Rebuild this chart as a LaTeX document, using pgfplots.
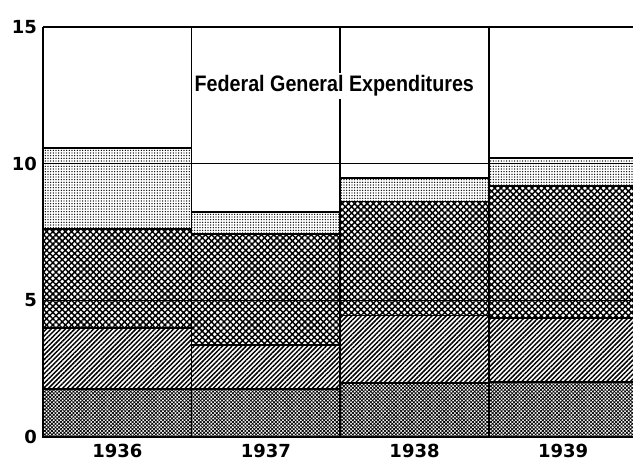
\documentclass[border=0pt]{standalone}
\usepackage{pgfplots}
\pgfplotsset{compat=1.18}
\usetikzlibrary{patterns.meta}
\usepackage{fontspec}
\setmainfont{DejaVu Sans}
\newfontfamily\titlefont[FakeStretch=0.88]{Liberation Sans}
\begin{document}
\begin{tikzpicture}
\begin{axis}[
  scale only axis, width=442.5pt, height=307.5pt,
  xmin=-0.5, xmax=3.47, ymin=0, ymax=15,
  ybar stacked, bar width=1,
  axis line style={draw=none},
  xtick={0,1,2,3}, xticklabels={1936,1937,1938,1939},
  ytick={0,5,10,15},
  major tick length=0pt,
  tick label style={font=\bfseries\fontsize{13.5}{14}\selectfont},
  /pgf/number format/assume math mode=true,
  xticklabel style={yshift=-2pt},
  yticklabel style={xshift=-1pt},
  clip=false,
]
\addplot[draw=black, line width=1.1pt, pattern={Hatch[angle=45,distance=1.9pt,line width=0.55pt]}]
  coordinates {(0,1.76) (1,1.76) (2,1.98) (3,2.02)};
\addplot[draw=black, line width=1.1pt, pattern={Lines[angle=45,distance=2.5pt,line width=1.1pt]}]
  coordinates {(0,2.23) (1,1.61) (2,2.46) (3,2.33)};
\addplot[draw=black, line width=1.1pt, pattern={Hatch[angle=45,distance=3.3pt,line width=1.1pt]}]
  coordinates {(0,3.62) (1,4.06) (2,4.17) (3,4.83)};
\addplot[draw=black, line width=1.1pt, pattern={Dots[distance=2pt,radius=0.55pt]}]
  coordinates {(0,2.97) (1,0.80) (2,0.87) (3,1.02)};
\draw[line width=0.8pt] (axis cs:-0.5,5) -- (axis cs:3.47,5);
\draw[line width=0.8pt] (axis cs:-0.5,10) -- (axis cs:3.47,10);
\draw[line width=1.1pt] (axis cs:-0.5,15) -- (axis cs:3.47,15);
\draw[line width=1.1pt] (axis cs:0.5,0) -- (axis cs:0.5,15);
\draw[line width=1.1pt] (axis cs:1.5,0) -- (axis cs:1.5,15);
\draw[line width=1.1pt] (axis cs:2.5,0) -- (axis cs:2.5,15);
\draw[line width=1.1pt] (axis cs:-0.5,0) -- (axis cs:-0.5,15);
\draw[line width=2.2pt] (axis cs:-0.5,0) -- (axis cs:3.47,0);
\coordinate (tt) at (axis cs:1.46,12.85);
\coordinate (sw) at (rel axis cs:0,0);
\coordinate (ne) at (rel axis cs:1,1);
\end{axis}
\node[fill=white, inner sep=2pt, font=\titlefont\bfseries\fontsize{16.8}{18}\selectfont] at (tt) {Federal General Expenditures};
\pgfresetboundingbox
\path[use as bounding box] ([xshift=-32.25pt,yshift=-21pt]sw) rectangle ([yshift=20.25pt]ne);
\end{tikzpicture}
\end{document}
